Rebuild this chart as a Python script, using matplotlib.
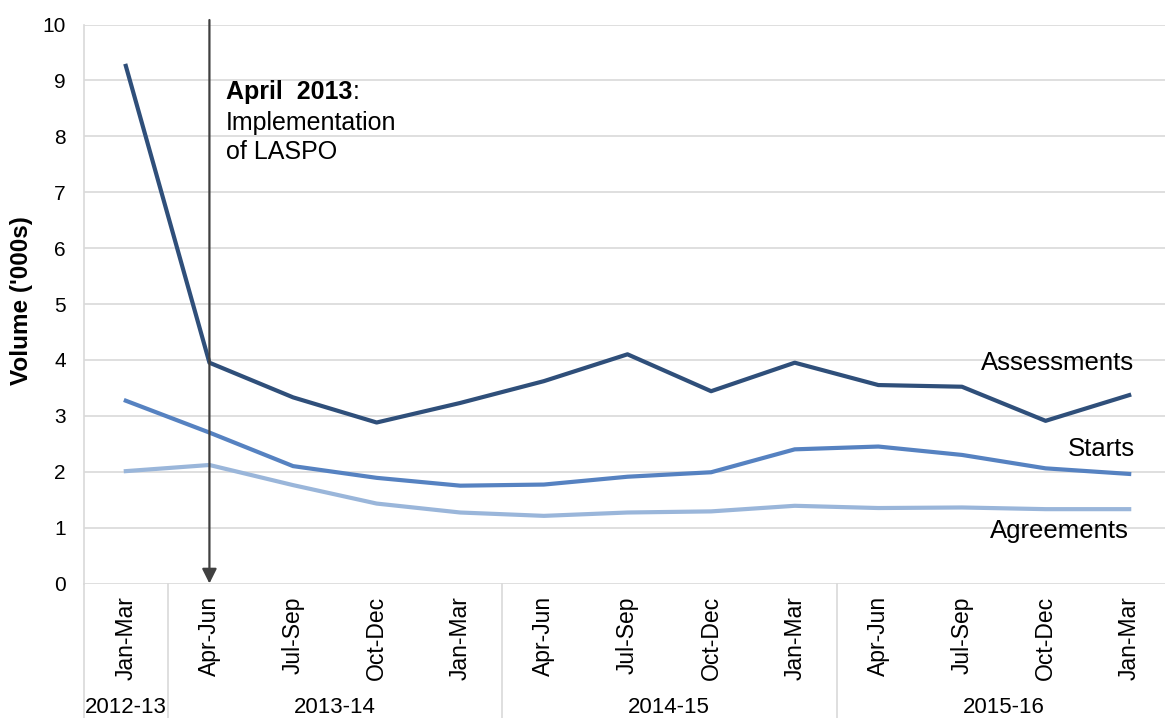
import matplotlib
matplotlib.use("Agg")
import matplotlib.pyplot as plt
import matplotlib.transforms as mtransforms

plt.rcParams['font.family'] = ['Liberation Sans', 'DejaVu Sans']

quarters = ['Jan-Mar', 'Apr-Jun', 'Jul-Sep', 'Oct-Dec', 'Jan-Mar', 'Apr-Jun', 'Jul-Sep',
            'Oct-Dec', 'Jan-Mar', 'Apr-Jun', 'Jul-Sep', 'Oct-Dec', 'Jan-Mar']
years = ['2012-13', '2013-14', '2014-15', '2015-16']
year_spans = [(0, 0), (1, 4), (5, 8), (9, 12)]

assessments = [9.26, 3.95, 3.33, 2.88, 3.23, 3.62, 4.10, 3.44, 3.95, 3.55, 3.52, 2.91, 3.37]
starts = [3.27, 2.70, 2.10, 1.89, 1.75, 1.77, 1.91, 1.99, 2.40, 2.45, 2.30, 2.06, 1.96]
agreements = [2.01, 2.12, 1.76, 1.43, 1.27, 1.21, 1.27, 1.29, 1.39, 1.35, 1.36, 1.33, 1.33]

c_ass = '#2F4F7A'
c_sta = '#5682C1'
c_agr = '#9AB6DA'
grid_c = '#D9D9D9'

fig = plt.figure(figsize=(11.65, 7.18), dpi=100)
ax = fig.add_axes([84 / 1165, 1 - 583.5 / 718, (1171 - 84) / 1165, (583.5 - 24.5) / 718])

x = list(range(len(quarters)))
ax.plot(x, agreements, color=c_agr, lw=3, solid_joinstyle='round', zorder=3)
ax.plot(x, starts, color=c_sta, lw=3, solid_joinstyle='round', zorder=3)
ax.plot(x, assessments, color=c_ass, lw=3, solid_joinstyle='round', zorder=3)

ax.set_xlim(-0.5, 12.5)
ax.set_ylim(0, 10)
ax.set_yticks(range(0, 11))
ax.yaxis.grid(True, color=grid_c, lw=1.2)
ax.set_axisbelow(True)
for s in ['top', 'right', 'bottom']:
    ax.spines[s].set_visible(False)
ax.spines['left'].set_color(grid_c)
ax.spines['left'].set_linewidth(1.2)
ax.tick_params(axis='y', length=0, pad=13, labelsize=15)
ax.set_xticks(x)
ax.set_xticklabels(quarters, rotation=90, fontsize=16.5, va='top')
ax.tick_params(axis='x', length=0, pad=9)
ax.set_ylabel("Volume ('000s)", fontsize=17.5, fontweight='bold')
ax.yaxis.set_label_coords(-0.047, 0.507)

# category separators and year labels under the axis
trans = mtransforms.blended_transform_factory(ax.transData, ax.transAxes)
for b in [-0.5, 0.5, 4.5, 8.5, 12.5]:
    ax.plot([b, b], [0, -0.3], color=grid_c, lw=1.2, transform=trans, clip_on=False)
for yr, (a, b) in zip(years, year_spans):
    ax.text((a + b) / 2, -0.2227, yr, transform=trans, ha='center', va='center', fontsize=16)

# LASPO marker
ax.annotate('', xy=(1, 0), xytext=(1, 10.08),
            arrowprops=dict(arrowstyle='-|>', color='#404040', lw=1.6, mutation_scale=22,
                            shrinkA=0, shrinkB=0), annotation_clip=False, zorder=4)
t1 = ax.text(1.2, 8.667, 'April  2013', fontsize=18, fontweight='bold', va='baseline')
ax.annotate(':', xy=(1, 0), xycoords=t1, va='bottom', fontsize=18)
ax.text(1.2, 8.11, 'Implementation', fontsize=18, va='baseline')
ax.text(1.2, 7.59, 'of LASPO', fontsize=18, va='baseline')

# series labels
ax.text(12.06, 3.82, 'Assessments', fontsize=18.5, ha='right', va='baseline')
ax.text(12.07, 2.28, 'Starts', fontsize=18.5, ha='right', va='baseline')
ax.text(12.0, 0.81, 'Agreements', fontsize=18.5, ha='right', va='baseline')

fig.savefig('out.png', dpi=100)
